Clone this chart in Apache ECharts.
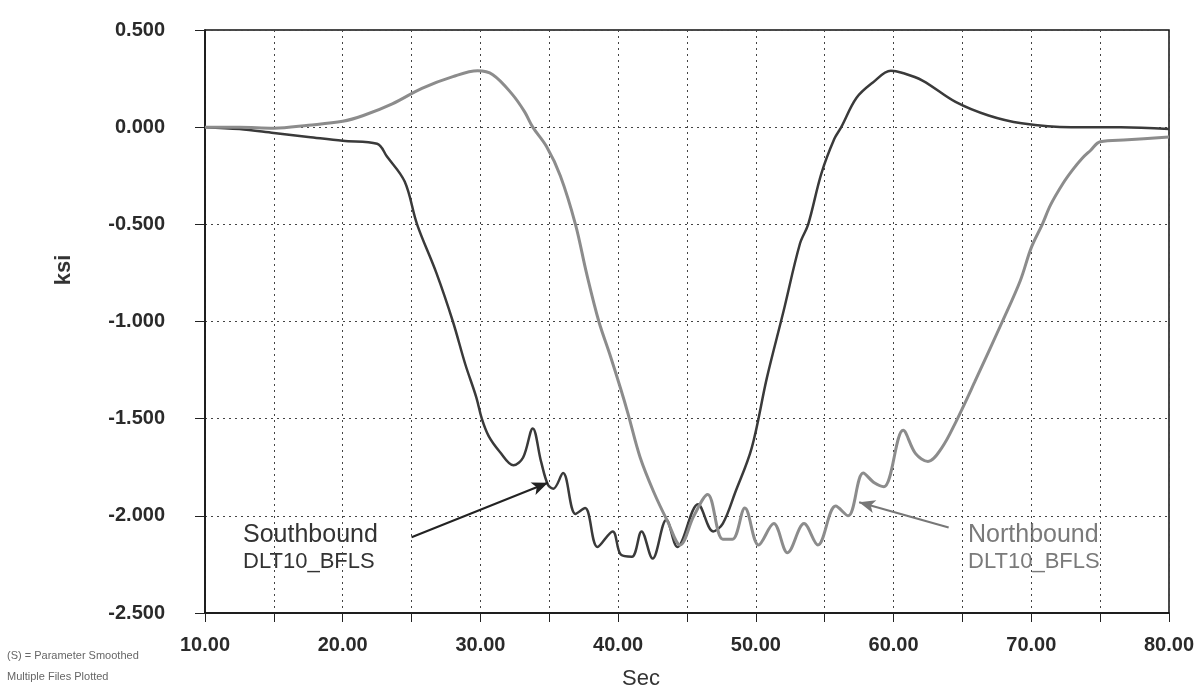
<!DOCTYPE html>
<html>
<head>
<meta charset="utf-8">
<script src="https://cdn.jsdelivr.net/npm/echarts@6/dist/echarts.min.js"></script>
<style>html,body{margin:0;padding:0;background:#fff;}#c{width:1199px;height:696px;}</style>
</head>
<body>
<div id="c"></div>
<script>
// Southbound DLT10_BFLS (darker trace)
const sbT = [10,12.5,15,17.5,20,22.5,23.2,24.5,25.4,26.8,28.0,28.9,29.7,30.1,30.6,31.4,32.4,33.1,33.8,34.4,34.9,35.3,36.0,36.9,37.6,38.5,39.6,40.2,41.0,41.7,42.5,43.5,44.3,45.8,46.9,47.6,48.5,49.7,50.8,52.0,53.2,53.8,54.75,55.7,56.2,57.3,58.5,59.8,60.6,62.1,64.5,66.9,69.3,72.9,76.5,80];
const sbV = [0.0,-0.01,-0.03,-0.05,-0.07,-0.085,-0.15,-0.28,-0.5,-0.75,-1.0,-1.22,-1.39,-1.5,-1.59,-1.67,-1.74,-1.70,-1.55,-1.72,-1.84,-1.86,-1.78,-1.99,-1.96,-2.16,-2.08,-2.20,-2.21,-2.08,-2.22,-2.02,-2.16,-1.94,-2.08,-2.04,-1.88,-1.65,-1.29,-0.95,-0.60,-0.50,-0.24,-0.06,0.0,0.15,0.23,0.29,0.28,0.24,0.13,0.06,0.02,0.0,0.0,-0.01];
// Northbound DLT10_BFLS (lighter trace)
const nbT = [10,12.5,15,17.5,20,21.5,23.6,25.75,28,29.8,30.9,32.3,33.2,33.8,34.8,35.8,36.9,37.7,38.6,39.4,40.2,40.7,41.6,42.6,43.6,44.5,45.5,46.5,47.6,48.3,49.2,50.2,51.3,52.3,53.5,54.5,55.8,56.7,57.8,58.6,59.3,60.7,61.6,62.5,63.5,64.5,65.9,67.9,69.2,70.0,70.8,71.4,72.3,73.0,73.7,74.3,75.0,77.0,80];
const nbV = [0.0,0.0,-0.005,0.01,0.03,0.06,0.12,0.20,0.26,0.29,0.27,0.17,0.08,0.0,-0.10,-0.25,-0.50,-0.75,-1.0,-1.17,-1.35,-1.47,-1.70,-1.88,-2.03,-2.15,-2.0,-1.89,-2.12,-2.12,-1.96,-2.15,-2.04,-2.19,-2.04,-2.15,-1.95,-2.0,-1.78,-1.83,-1.85,-1.56,-1.68,-1.72,-1.65,-1.52,-1.31,-1.0,-0.79,-0.62,-0.5,-0.40,-0.29,-0.22,-0.16,-0.12,-0.075,-0.065,-0.05];
// axis ticks
const xTicks = [10,20,30,40,50,60,70,80];
const yTicks = [0.5,0,-0.5,-1,-1.5,-2,-2.5];
// annotation arrows [from, to] in data units
const sbArrow = [[25.0,-2.11],[34.9,-1.83]];
const nbArrow = [[64.0,-2.06],[57.5,-1.93]];

const chart = echarts.init(document.getElementById('c'));
const F = 'Liberation Sans, Arial, sans-serif';
chart.setOption({
  animation:false,
  backgroundColor:'#fff',
  grid:{left:205,right:30,top:30,bottom:83,outerBoundsMode:'none',containLabel:false,show:true,borderColor:'#111',borderWidth:1.5,backgroundColor:'transparent'},
  xAxis:{type:'value',min:10,max:80,interval:5,
    axisLine:{show:true,onZero:false,lineStyle:{color:'#111',width:1.5}},
    axisTick:{show:true,length:9,lineStyle:{color:'#222'}},
    axisLabel:{margin:22,fontFamily:F,fontSize:20,fontWeight:'bold',color:'#2a2a2a',
      formatter:v=>xTicks.includes(v)?v.toFixed(2):''},
    splitLine:{show:true,lineStyle:{type:[2,4],color:'#444',width:1}}},
  yAxis:{type:'value',min:-2.5,max:0.5,interval:0.5,
    axisLine:{show:true,onZero:false,lineStyle:{color:'#111',width:1.5}},
    axisTick:{show:true,length:10,lineStyle:{color:'#222'}},
    axisLabel:{margin:40,fontFamily:F,fontSize:20,fontWeight:'bold',color:'#2a2a2a',
      formatter:v=>yTicks.some(t=>Math.abs(t-v)<1e-9)?v.toFixed(3):''},
    splitLine:{show:true,lineStyle:{type:[2,4],color:'#444',width:1}}},
  series:[
    {name:'Southbound DLT10_BFLS',type:'line',smooth:0.35,showSymbol:false,
      data:sbT.map((t,i)=>[t,sbV[i]]),
      lineStyle:{color:'#3a3a3a',width:2.5},
      markLine:{silent:true,symbol:['none','arrow'],symbolSize:[10,16],label:{show:false},
        lineStyle:{color:'#222',width:2,type:'solid'},
        data:[[{coord:sbArrow[0]},{coord:sbArrow[1]}]]}},
    {name:'Northbound DLT10_BFLS',type:'line',smooth:0.35,showSymbol:false,
      data:nbT.map((t,i)=>[t,nbV[i]]),
      lineStyle:{color:'#8c8c8c',width:3},
      markLine:{silent:true,symbol:['none','arrow'],symbolSize:[10,16],label:{show:false},
        lineStyle:{color:'#777',width:2,type:'solid'},
        data:[[{coord:nbArrow[0]},{coord:nbArrow[1]}]]}}
  ],
  graphic:[
    {type:'text',left:243,top:523,style:{text:'Southbound',font:'25px '+F,fill:'#333'}},
    {type:'text',left:243,top:551,style:{text:'DLT10_BFLS',font:'22px '+F,fill:'#333'}},
    {type:'text',left:968,top:523,style:{text:'Northbound',font:'25px '+F,fill:'#7a7a7a'}},
    {type:'text',left:968,top:551,style:{text:'DLT10_BFLS',font:'22px '+F,fill:'#7a7a7a'}},
    {type:'text',left:622,top:668,style:{text:'Sec',font:'22px '+F,fill:'#333'}},
    {type:'text',x:64,y:270,rotation:Math.PI/2,style:{text:'ksi',font:'bold 22px '+F,fill:'#333',align:'center',verticalAlign:'middle'}},
    {type:'text',left:7,top:650,style:{text:'(S) = Parameter Smoothed',font:'11px '+F,fill:'#666'}},
    {type:'text',left:7,top:671,style:{text:'Multiple Files Plotted',font:'11px '+F,fill:'#666'}}
  ]
});
</script>
</body>
</html>
